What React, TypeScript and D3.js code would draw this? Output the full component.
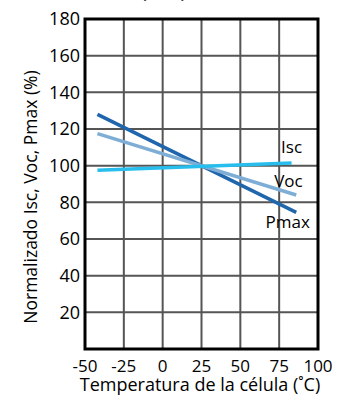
import React, { useEffect, useRef } from "react";
import * as d3 from "d3";

const xTicks = [-50, -25, 0, 25, 50, 75, 100];
const yTicks = [20, 40, 60, 80, 100, 120, 140, 160, 180];
const series = [
  { name: "Pmax", color: "#1f66ad", temps: [-42, 86], values: [128, 74.5] },
  { name: "Voc", color: "#7eaed6", temps: [-42, 86], values: [117.5, 84] },
  { name: "Isc", color: "#27bdec", temps: [-42, 83], values: [97.5, 101.5] },
];
const labels = [
  { name: "Isc", temp: 83, value: 107 },
  { name: "Voc", temp: 81, value: 88.5 },
  { name: "Pmax", temp: 80.5, value: 66 },
];

const App = () => {
  const ref = useRef<SVGSVGElement>(null);
  const width = 349;
  const height = 398;
  const m = { left: 85, right: 31, top: 19, bottom: 49 };

  useEffect(() => {
    const svg = d3.select(ref.current);
    svg.selectAll("*").remove();
    const font = "'Open Sans', sans-serif";

    const x = d3.scaleLinear().domain([-50, 100]).range([m.left, width - m.right]);
    const y = d3.scaleLinear().domain([0, 180]).range([height - m.bottom, m.top]);

    // title, mostly out of view
    svg
      .append("text")
      .attr("x", 178)
      .attr("y", -1)
      .attr("text-anchor", "middle")
      .style("font-family", font)
      .style("font-weight", "bold")
      .style("font-size", "16px")
      .style("fill", "#444")
      .text("Isc, Voc, Pmax");

    const grid = svg.append("g").attr("stroke", "#555").attr("stroke-width", 2);
    grid
      .selectAll("line.v")
      .data(xTicks.slice(1, -1))
      .enter()
      .append("line")
      .attr("x1", (d) => x(d))
      .attr("x2", (d) => x(d))
      .attr("y1", y(180))
      .attr("y2", y(0));
    grid
      .selectAll("line.h")
      .data(yTicks.slice(0, -1))
      .enter()
      .append("line")
      .attr("class", "h")
      .attr("x1", x(-50))
      .attr("x2", x(100))
      .attr("y1", (d) => y(d))
      .attr("y2", (d) => y(d));

    const line = d3
      .line<[number, number]>()
      .x((d) => x(d[0]))
      .y((d) => y(d[1]));

    series.forEach((s) => {
      svg
        .append("path")
        .datum(s.temps.map((t, i) => [t, s.values[i]] as [number, number]))
        .attr("d", line)
        .attr("fill", "none")
        .attr("stroke", s.color)
        .attr("stroke-width", 3.5);
    });

    svg
      .append("rect")
      .attr("x", x(-50))
      .attr("y", y(180))
      .attr("width", x(100) - x(-50))
      .attr("height", y(0) - y(180))
      .attr("fill", "none")
      .attr("stroke", "#000")
      .attr("stroke-width", 3);

    svg
      .selectAll("text.lab")
      .data(labels)
      .enter()
      .append("text")
      .attr("x", (d) => x(d.temp))
      .attr("y", (d) => y(d.value))
      .attr("text-anchor", "middle")
      .style("font-family", font)
      .style("font-size", "17px")
      .text((d) => d.name);

    svg
      .selectAll("text.yt")
      .data(yTicks)
      .enter()
      .append("text")
      .attr("x", m.left - 5)
      .attr("y", (d) => y(d))
      .attr("dy", "0.36em")
      .attr("text-anchor", "end")
      .style("font-family", font)
      .style("font-size", "18px")
      .text((d) => d);

    svg
      .selectAll("text.xt")
      .data(xTicks)
      .enter()
      .append("text")
      .attr("x", (d) => x(d))
      .attr("y", 372)
      .attr("text-anchor", "middle")
      .style("font-family", font)
      .style("font-size", "17px")
      .text((d) => d);

    svg
      .append("text")
      .attr("x", 200)
      .attr("y", 391)
      .attr("text-anchor", "middle")
      .style("font-family", font)
      .style("font-size", "18px")
      .text("Temperatura de la célula (˚C)");

    svg
      .append("text")
      .attr("transform", "translate(37,197) rotate(-90)")
      .attr("text-anchor", "middle")
      .style("font-family", font)
      .style("font-size", "17.5px")
      .text("Normalizado Isc, Voc, Pmax (%)");
  }, []);

  return (
    <svg
      ref={ref}
      width={width}
      height={height}
      style={{ position: "absolute", left: 0, top: 0, background: "#fff" }}
    />
  );
};

export default App;
